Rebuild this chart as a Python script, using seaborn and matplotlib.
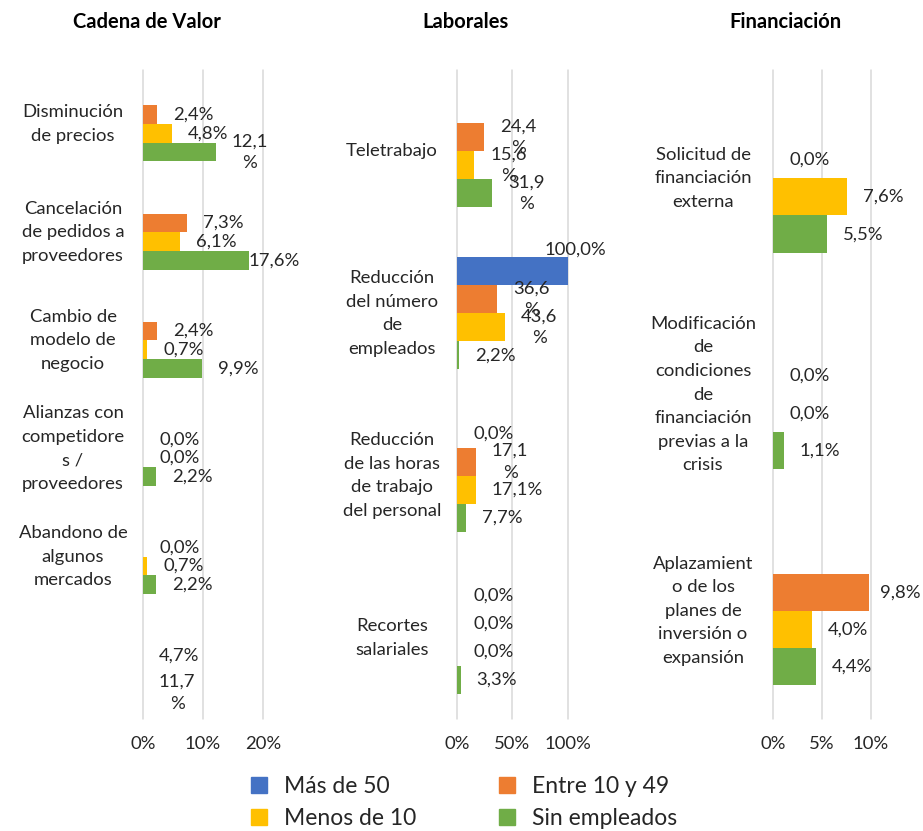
import numpy as np
import pandas as pd
import matplotlib
matplotlib.use("Agg")
import matplotlib.pyplot as plt
from matplotlib.patches import Patch
import seaborn as sns

# ---------------- data ----------------
SERIES = ["Más de 50", "Entre 10 y 49", "Menos de 10", "Sin empleados"]
COLORS = ["#4472C4", "#ED7D31", "#FFC000", "#70AD47"]

# Cadena de Valor
cad_cats = ["Disminución\nde precios", "Cancelación\nde pedidos a\nproveedores",
            "Cambio de\nmodelo de\nnegocio", "Alianzas con\ncompetidore\ns /\nproveedores",
            "Abandono de\nalgunos\nmercados", ""]
cad_mas50 = [0.0, 0.0, 0.0, 0.0, 0.0, 0.0]
cad_entre = [2.4, 7.3, 2.4, 0.0, 0.0, 0.0]
cad_menos = [4.8, 6.1, 0.7, 0.0, 0.7, 0.0]
cad_sin = [12.1, 17.6, 9.9, 2.2, 2.2, 0.0]
cad_lbl_mas50 = [None, None, None, None, None, None]
cad_lbl_entre = ["2,4%", "7,3%", "2,4%", "0,0%", "0,0%", "4,7%"]
cad_lbl_menos = ["4,8%", "6,1%", "0,7%", "0,0%", "0,7%", None]
cad_lbl_sin = ["12,1\n%", "17,6%", "9,9%", "2,2%", "2,2%", "11,7\n%"]
cad_ticks = [0, 10, 20]

# Laborales
lab_cats = ["Teletrabajo", "Reducción\ndel número\nde\nempleados",
            "Reducción\nde las horas\nde trabajo\ndel personal", "Recortes\nsalariales"]
lab_mas50 = [0.0, 100.0, 0.0, 0.0]
lab_entre = [24.4, 36.6, 17.1, 0.0]
lab_menos = [15.6, 43.6, 17.1, 0.0]
lab_sin = [31.9, 2.2, 7.7, 3.3]
lab_lbl_mas50 = [None, "100,0%", "0,0%", "0,0%"]
lab_lbl_entre = ["24,4\n%", "36,6\n%", "17,1\n%", "0,0%"]
lab_lbl_menos = ["15,6\n%", "43,6\n%", "17,1%", "0,0%"]
lab_lbl_sin = ["31,9\n%", "2,2%", "7,7%", "3,3%"]
lab_ticks = [0, 50, 100]

# Financiación
fin_cats = ["Solicitud de\nfinanciación\nexterna",
            "Modificación\nde\ncondiciones\nde\nfinanciación\nprevias a la\ncrisis",
            "Aplazamient\no de los\nplanes de\ninversión o\nexpansión"]
fin_mas50 = [0.0, 0.0, 0.0]
fin_entre = [0.0, 0.0, 9.8]
fin_menos = [7.6, 0.0, 4.0]
fin_sin = [5.5, 1.1, 4.4]
fin_lbl_mas50 = [None, None, None]
fin_lbl_entre = ["0,0%", "0,0%", "9,8%"]
fin_lbl_menos = ["7,6%", "0,0%", "4,0%"]
fin_lbl_sin = ["5,5%", "1,1%", "4,4%"]
fin_ticks = [0, 5, 10]

titles = ["Cadena de Valor", "Laborales", "Financiación"]

# ---------------- style ----------------
sns.set_style("white")
plt.rcParams["font.family"] = ["Lato", "DejaVu Sans"]
FS = 13.3
DPI = 100
W, H = 923, 831
TXT = "#262626"

fig = plt.figure(figsize=(W / DPI, H / DPI), dpi=DPI)

panels = [
    dict(cats=cad_cats, vals=[cad_mas50, cad_entre, cad_menos, cad_sin],
         lbls=[cad_lbl_mas50, cad_lbl_entre, cad_lbl_menos, cad_lbl_sin],
         ticks=cad_ticks, ax_px=(143, 263), lab_pad=70, bound=299, title_x=147),
    dict(cats=lab_cats, vals=[lab_mas50, lab_entre, lab_menos, lab_sin],
         lbls=[lab_lbl_mas50, lab_lbl_entre, lab_lbl_menos, lab_lbl_sin],
         ticks=lab_ticks, ax_px=(457, 567.5), lab_pad=65, bound=606, title_x=466),
    dict(cats=fin_cats, vals=[fin_mas50, fin_entre, fin_menos, fin_sin],
         lbls=[fin_lbl_mas50, fin_lbl_entre, fin_lbl_menos, fin_lbl_sin],
         ticks=fin_ticks, ax_px=(773, 870.7), lab_pad=70, bound=921, title_x=785),
]

top_px, bot_px = 70, 719
annots = []
for p, title in zip(panels, titles):
    x0, x1 = p["ax_px"]
    ax = fig.add_axes([x0 / W, 1 - bot_px / H, (x1 - x0) / W, (bot_px - top_px) / H])
    rows = []
    for s, vals in zip(SERIES, p["vals"]):
        for c, v in zip(p["cats"], vals):
            rows.append(dict(cat=c, series=s, value=v))
    df = pd.DataFrame(rows)
    sns.barplot(data=df, y="cat", x="value", hue="series", order=p["cats"],
                hue_order=SERIES, palette=COLORS, saturation=1, orient="h",
                width=0.69, errorbar=None, legend=False, linewidth=0, ax=ax)
    ax.set_xlim(0, p["ticks"][-1])
    ax.set_ylim(len(p["cats"]) - 0.5, -0.5)
    ax.set_xticks(p["ticks"])
    ax.set_xticklabels([f"{t}%" for t in p["ticks"]], fontsize=FS, color=TXT)
    ax.set_xlabel("")
    ax.set_ylabel("")
    for sp in ax.spines.values():
        sp.set_visible(False)
    ax.grid(axis="x", color="#D9D9D9", linewidth=1.1)
    ax.grid(axis="y", visible=False)
    ax.set_axisbelow(True)
    for gl in ax.get_xgridlines():
        gl.set_clip_on(False)
    ax.tick_params(axis="x", length=0, pad=12)
    ax.tick_params(axis="y", length=0, pad=p["lab_pad"] * 72 / DPI)
    for t in ax.get_yticklabels():
        t.set_ha("center")
        t.set_va("center")
        t.set_multialignment("center")
        t.set_fontsize(FS)
        t.set_color(TXT)
        t.set_linespacing(1.58)

    # data labels
    for j, cont in enumerate(ax.containers):
        for bar in cont:
            yc = bar.get_y() + bar.get_height() / 2
            i = int(round(yc))
            txt = p["lbls"][j][i]
            if txt is None:
                continue
            xv = bar.get_width()
            an = ax.annotate(txt, xy=(xv, yc), xytext=(16 * 72 / DPI, 0),
                             textcoords="offset points", ha="left", va="center",
                             multialignment="center", fontsize=FS, color=TXT,
                             linespacing=1.45, annotation_clip=False)
            annots.append((an, ax, bar, p["bound"]))

    fig.text(p["title_x"] / W, 1 - 22 / H, title, ha="center", va="center",
             fontsize=14.5, fontweight="bold", color="black")

# keep labels inside each panel's area (like the original chart)
fig.canvas.draw()
rend = fig.canvas.get_renderer()
for an, ax, bar, bound in annots:
    bb = an.get_window_extent(rend)
    if bb.x1 > bound:
        dx = bound - bb.x1
        ox, oy = an.xyann
        new_x0 = bb.x0 + dx
        bar_end = ax.transData.transform((bar.get_width(), 0))[0]
        dy = 0
        if new_x0 < bar_end - 8:
            bh = abs(ax.transData.transform((0, bar.get_height()))[1]
                     - ax.transData.transform((0, 0))[1])
            dy = (bh / 2 + bb.height / 2) * 72 / DPI
        else:
            dx = max(dx, bar_end - bb.x0)
        an.xyann = (ox + dx * 72 / DPI, oy + dy)

LFS = 16.5
handles = [Patch(color=c, label=s) for c, s in zip(COLORS, SERIES)]
order = [0, 2, 1, 3]
fig.legend([handles[k] for k in order], [SERIES[k] for k in order], ncol=2,
           loc="upper left", bbox_to_anchor=(251 / W, 1 - 776 / H), frameon=False,
           fontsize=LFS, handlelength=0.7, handleheight=0.7, handletextpad=0.75,
           columnspacing=3.6, labelspacing=0.5, borderpad=0, borderaxespad=0,
           labelcolor=TXT)

fig.savefig("out.png", dpi=DPI)
